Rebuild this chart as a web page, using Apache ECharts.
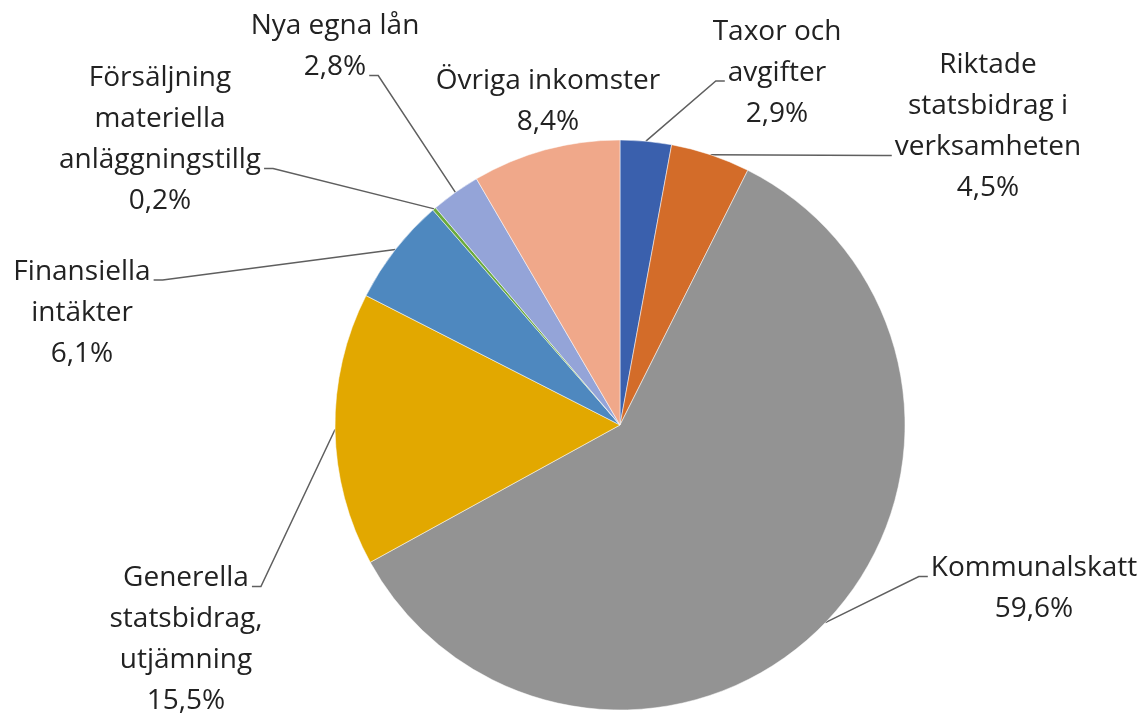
<!DOCTYPE html>
<html>
<head>
<meta charset="utf-8">
<script src="https://cdn.jsdelivr.net/npm/echarts@6/dist/echarts.min.js"></script>
<style>
  html, body { margin: 0; padding: 0; background: #fff; }
  #chart { width: 1144px; height: 715px; }
</style>
</head>
<body>
<div id="chart"></div>
<script>
// kategorier (med radbrytningar som i originalet)
var categories = [
  "Taxor och\navgifter",
  "Riktade\nstatsbidrag i\nverksamheten",
  "Kommunalskatt",
  "Generella\nstatsbidrag,\nutjämning",
  "Finansiella\nintäkter",
  "Försäljning\nmateriella\nanläggningstillg",
  "Nya egna lån",
  "Övriga inkomster"
];
// andel i procent
var shares = [2.9, 4.5, 59.6, 15.5, 6.1, 0.2, 2.8, 8.4];
var colors = ["#3a60ad", "#d36c29", "#939393", "#e2a800", "#4e88bf", "#6aaa3c", "#94a4d8", "#f0a88a"];

// etikettplacering (mittpunkt i px)
var labelPos = [
  [777, 73], [988, 127], [1034, 589], [186, 640],
  [82, 313], [160, 140], [335, 47], [548, 102]
];
// var linjen fäster: [radindex, sida] (null = ingen linje)
var lineAttach = [
  [1, "left"], [2, "left"], [0, "left"], [0, "right"],
  [0, "right"], [2, "right"], [1, "right"], null
];

var FONT_SIZE = 28;
var LINE_H = 41;
var FONT = FONT_SIZE + "px 'Open Sans'";
var ctx = document.createElement("canvas").getContext("2d");

function fmt(v) {
  return v.toFixed(1).replace(".", ",") + "%";
}

var pieData = categories.map(function (name, i) {
  return {
    name: name,
    value: shares[i],
    itemStyle: { color: colors[i] },
    labelLine: { show: lineAttach[i] !== null }
  };
});

var myChart = echarts.init(document.getElementById("chart"));
myChart.setOption({
  animation: false,
  series: [
    {
      type: "pie",
      center: [620, 425],
      radius: 285,
      startAngle: 90,
      clockwise: true,
      data: pieData,
      itemStyle: { borderColor: "#fff", borderWidth: 0.5 },
      label: {
        show: true,
        position: "outside",
        fontFamily: "Open Sans",
        fontSize: FONT_SIZE,
        lineHeight: LINE_H,
        color: "#222",
        align: "center",
        formatter: function (p) {
          return p.name + "\n" + fmt(p.value);
        }
      },
      labelLine: {
        show: true,
        length: 10,
        length2: 8,
        lineStyle: { color: "#5f5f5f", width: 1.5 }
      },
      labelLayout: function (params) {
        var i = params.dataIndex;
        var p = labelPos[i];
        var out = { x: p[0], y: p[1], align: "center", verticalAlign: "middle" };
        var att = lineAttach[i];
        if (att && params.labelLinePoints) {
          var lines = (categories[i] + "\n" + fmt(shares[i])).split("\n");
          ctx.font = FONT;
          var w = ctx.measureText(lines[att[0]]).width;
          var ly = p[1] - (lines.length - 1) * LINE_H / 2 + att[0] * LINE_H + 8;
          var sgn = att[1] === "left" ? -1 : 1;
          var ex = p[0] + sgn * (w / 2 + 3);
          var start = params.labelLinePoints[0];
          out.labelLinePoints = [
            [start[0], start[1]],
            [ex + sgn * 9, ly],
            [ex, ly]
          ];
        }
        return out;
      }
    }
  ]
});
</script>
</body>
</html>
